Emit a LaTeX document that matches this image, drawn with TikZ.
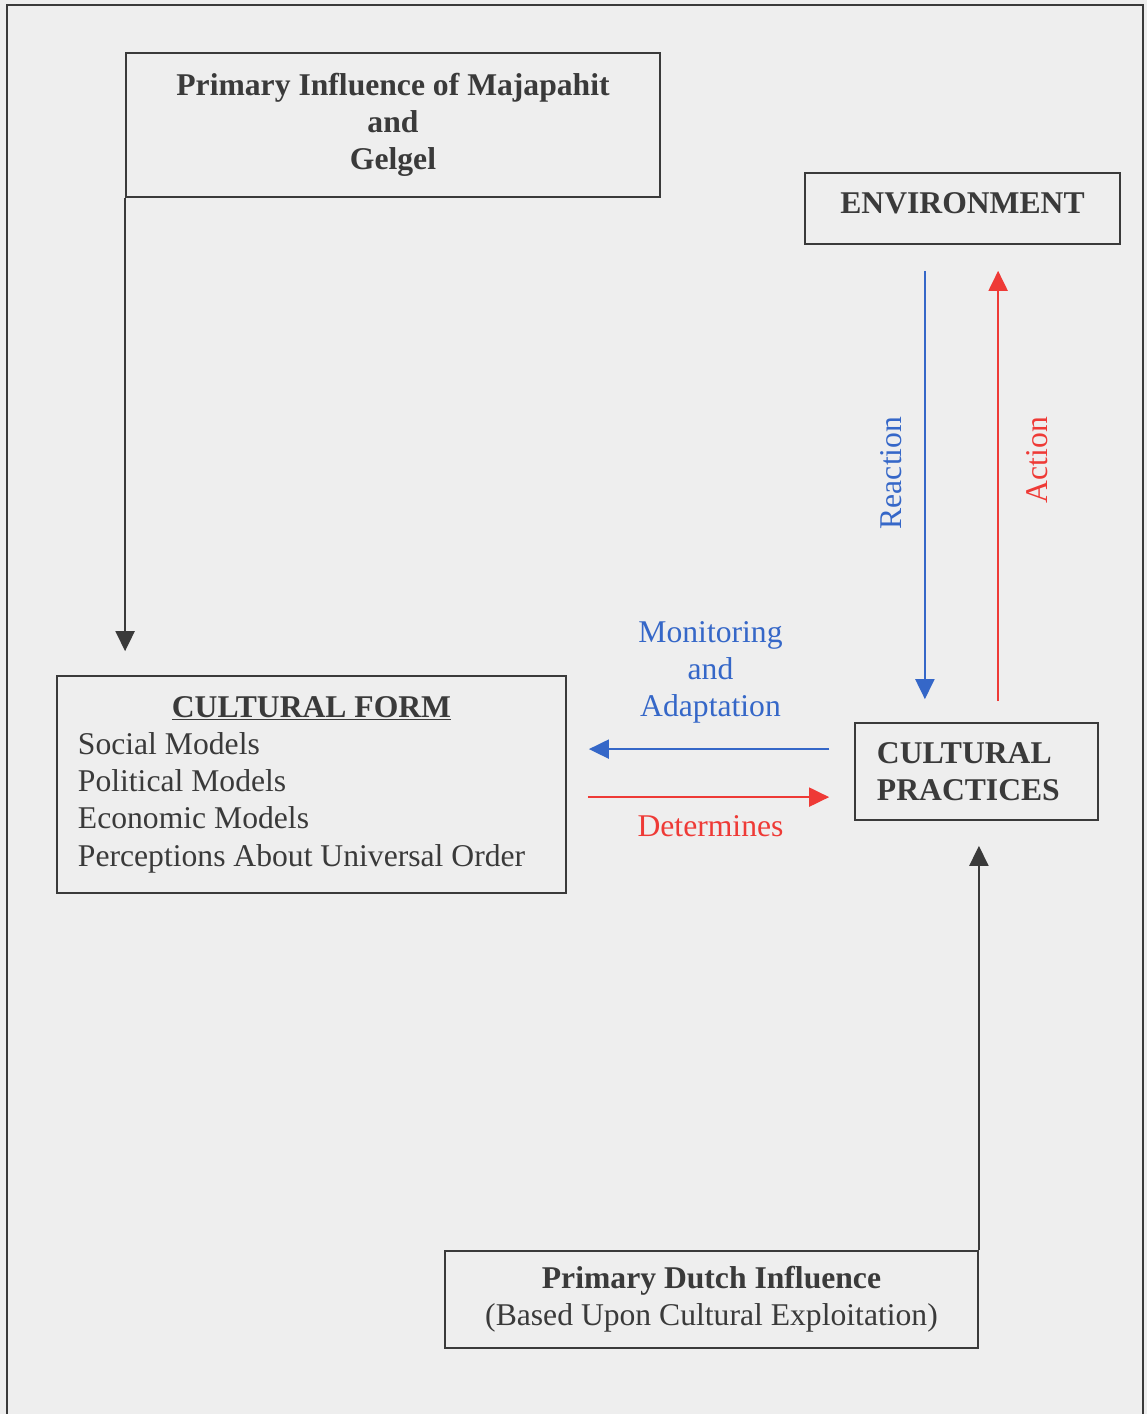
\documentclass[tikz,border=0pt]{standalone}
\usepackage{fontspec}
\setmainfont{Liberation Serif}
\usepackage{tikz}
\usetikzlibrary{arrows.meta, positioning}
\newcommand{\diagfont}{\fontsize{22.5}{26.5}\selectfont}
\definecolor{bgcol}{HTML}{EEEEEE}
\definecolor{framecol}{HTML}{3A3A3A}
\definecolor{reactcol}{HTML}{3567C8}
\definecolor{actcol}{HTML}{EE3A36}

\begin{document}
\begin{tikzpicture}[
    x=0.025cm, y=-0.025cm,
    every node/.style={font=\diagfont},
    box/.style={rectangle, draw=framecol, line width=1.2pt, text=framecol,
                text centered, align=center, inner sep=0pt},
    bigbox/.style={box, minimum width=13.35cm, minimum height=3.6cm},
    listbox/.style={box, align=flush left, text width=11.675cm, inner xsep=0.525cm,
                    minimum height=5.425cm},
    arr/.style={-{Triangle[length=0.5cm, width=0.48cm]}, line width=1pt, draw=framecol},
    reactarr/.style={arr, draw=reactcol, fill=reactcol},
    actarr/.style={arr, draw=actcol, fill=actcol},
]

% Page and frame
\fill[bgcol] (0,0) rectangle (1147,1414);
\useasboundingbox (0,0) rectangle (1147,1414);
\draw[framecol, line width=1.2pt] (7,1414) -- (7,5) -- (1143,5) -- (1143,1414);

\node[bigbox] (majapahit) at (393,125)
    {\textbf{Primary Influence of Majapahit}\\\textbf{and}\\\textbf{Gelgel}};

\node[box, minimum width=7.875cm, minimum height=1.775cm, text depth=0.28cm]
    (env) at (962.5,208.5) {\textbf{ENVIRONMENT}};

\node[listbox] (culform) at (311.5,784.5)
    {\makebox[11.675cm]{\underline{\textbf{CULTURAL FORM}}}\\
    Social Models\\
    Political Models\\
    Economic Models\\
    Perceptions About Universal Order};

\node[box, align=flush left, text width=4.975cm, inner xsep=0.55cm, minimum height=2.425cm]
    (practices) at (976.5,771.5) {\textbf{CULTURAL}\\\textbf{PRACTICES}};

\node[box, minimum width=13.325cm, minimum height=2.425cm] (dutch) at (711.5,1299.5)
    {\textbf{Primary Dutch Influence}\\(Based Upon Cultural Exploitation)};

% Influences
\draw[arr, shorten >=0.6cm] (majapahit.south west) -- (majapahit.south west |- culform.north);
\draw[arr, shorten >=0.625cm] (dutch.north east) -- (dutch.north east |- practices.south);

% Environment loop
\draw[reactarr, shorten <=0.65cm, shorten >=0.575cm]
    ([xshift=-0.94cm]env.south) -- ([xshift=-0.94cm]env.south |- practices.north)
    node[pos=0.478, rotate=90, anchor=south, inner xsep=0pt, inner ysep=0.55cm,
         text=reactcol] {Reaction};
\draw[actarr, shorten <=0.525cm, shorten >=0.65cm]
    ([xshift=0.89cm]env.south |- practices.north) -- ([xshift=0.89cm]env.south)
    node[pos=0.549, rotate=90, anchor=north, inner xsep=0pt, inner ysep=0.7cm,
         text=actcol] {Action};

% Form and practices
\draw[reactarr, shorten <=0.625cm, shorten >=0.55cm]
    ([yshift=0.56cm]practices.west) -- ([yshift=0.56cm]practices.west -| culform.east)
    node[midway, above=0.62cm, inner sep=0pt, align=center, text=reactcol]
    {Monitoring\\and\\Adaptation};
\draw[actarr, shorten <=0.525cm, shorten >=0.625cm]
    ([yshift=-0.64cm]practices.west -| culform.east) -- ([yshift=-0.64cm]practices.west)
    node[midway, below=0.45cm, inner sep=0pt, text=actcol] {Determines};

\end{tikzpicture}
\end{document}
